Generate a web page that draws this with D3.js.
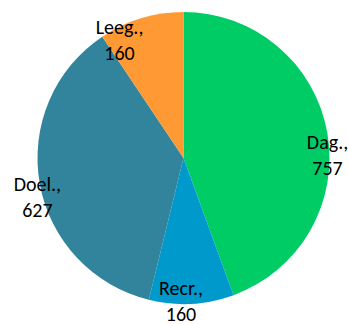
<!DOCTYPE html>
<html>
<head>
<meta charset="utf-8">
<script src="https://cdn.jsdelivr.net/npm/d3@7"></script>
<style>
  body { margin: 0; background: #fff; }
  text { font-family: Carlito, Calibri, Lato, sans-serif; font-size: 20px; fill: #000; }
</style>
</head>
<body>
<script>
// data
var categories = ["Dag.", "Recr.", "Doel.", "Leeg."];
var values = [757, 160, 627, 160];
var sliceColors = ["#00cc66", "#0099cc", "#31849b", "#ff9933"];

// label placement (angle in degrees from top, distance from centre)
var labelAngle = [90, 181, 254, 331];
var labelDist = [144, 146, 152, 132];

var width = 348, height = 324;
var cx = 183.5, cy = 158, radius = 146;

var svg = d3.select("body")
    .append("svg")
    .attr("width", width)
    .attr("height", height);

var g = svg.append("g")
    .attr("transform", "translate(" + cx + "," + cy + ")");

var pie = d3.pie().sort(null).value(function (d) { return d; });
var arc = d3.arc().innerRadius(0).outerRadius(radius);

var arcs = pie(values);

g.selectAll("path")
    .data(arcs)
    .enter()
    .append("path")
    .attr("d", arc)
    .attr("fill", function (d, i) { return sliceColors[i]; });

var labels = g.selectAll("text.lbl")
    .data(arcs)
    .enter()
    .append("text")
    .attr("class", "lbl")
    .attr("text-anchor", "middle")
    .attr("transform", function (d, i) {
        var a = labelAngle[i] * Math.PI / 180;
        var x = Math.sin(a) * labelDist[i];
        var y = -Math.cos(a) * labelDist[i];
        return "translate(" + x + "," + y + ")";
    });

labels.append("tspan")
    .attr("x", 0)
    .attr("dy", "-0.45em")
    .text(function (d, i) { return categories[i] + ","; });

labels.append("tspan")
    .attr("x", 0)
    .attr("dy", "1.3em")
    .text(function (d) { return d.data; });
</script>
</body>
</html>
